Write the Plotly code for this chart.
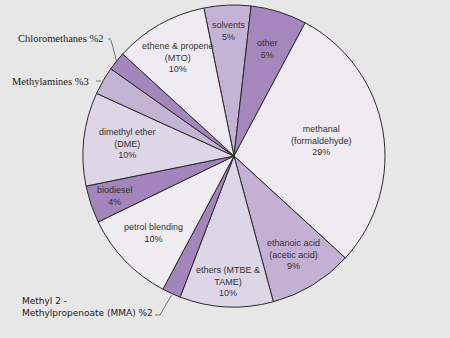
import math
import plotly.graph_objects as go

# Data (clockwise from the top-left of 12 o'clock)
labels = ["solvents", "other", "methanal (formaldehyde)", "ethanoic acid (acetic acid)",
          "ethers (MTBE & TAME)", "Methyl 2 - Methylpropenoate (MMA)", "petrol blending",
          "biodiesel", "dimethyl ether (DME)", "Methylamines", "Chloromethanes",
          "ethene & propene (MTO)"]
values = [5, 6, 29, 9, 10, 2, 10, 4, 10, 3, 2, 10]
inside_text = ["solvents<br>5%", "other<br>6%", "methanal<br>(formaldehyde)<br>29%",
               "ethanoic acid<br>(acetic acid)<br>9%", "ethers (MTBE &<br>TAME)<br>10%", "",
               "petrol blending<br>10%", "biodiesel<br>4%", "dimethyl ether<br>(DME)<br>10%",
               "", "", "ethene & propene<br>(MTO)<br>10%"]

# Styling
colors = ["#c3b3d4", "#a488bd", "#efebf1", "#c2b1d3", "#ddd6e6", "#a285bb",
          "#f0edf2", "#a285bc", "#ddd6e6", "#c3b4d4", "#a386bc", "#efebf2"]
label_rfrac = [0.83, 0.74, 0.59, 0.76, 0.83, 0, 0.74, 0.83, 0.71, 0, 0, 0.75]
W, H = 450, 338
cx, cy, R = 234, 156, 151
rotation = -11.5

fig = go.Figure(go.Pie(
    labels=labels, values=values, sort=False, direction="clockwise",
    rotation=rotation, textinfo="none", hoverinfo="skip",
    marker=dict(colors=colors, line=dict(color="#2a2a2a", width=1)),
    domain=dict(x=[(cx - R) / W, (cx + R) / W], y=[(H - cy - R) / H, (H - cy + R) / H]),
    showlegend=False,
))

total = sum(values)
angles = []
a = rotation
for v in values:
    span = v / total * 360
    angles.append(a + span / 2)
    a += span

def px_to_paper(x, y):
    return x / W, 1 - y / H

def polar(ang, r):
    rad = math.radians(ang)
    return cx + r * math.sin(rad), cy - r * math.cos(rad)

annotations = []
for txt, ang, rf in zip(inside_text, angles, label_rfrac):
    if not txt:
        continue
    x, y = polar(ang, rf * R)
    px, py = px_to_paper(x, y)
    annotations.append(dict(x=px, y=py, xref="paper", yref="paper", text=txt,
                            showarrow=False, xanchor="center", yanchor="middle",
                            font=dict(family="Liberation Sans, Arial", size=9, color="#333333")))

# outside labels
serif = dict(family="Liberation Serif, Times New Roman", size=10.5, color="#1a1a1a")
sans = dict(family="DejaVu Sans, Verdana", size=9, color="#1a1a1a")
annotations.append(dict(x=105 / W, y=1 - 38 / H, xref="paper", yref="paper",
                        text="Chloromethanes %2", showarrow=False, xanchor="right",
                        yanchor="middle", font=serif))
annotations.append(dict(x=91 / W, y=1 - 81 / H, xref="paper", yref="paper",
                        text="Methylamines %3", showarrow=False, xanchor="right",
                        yanchor="middle", font=serif))
annotations.append(dict(x=20 / W, y=1 - 307 / H, xref="paper", yref="paper",
                        text="Methyl 2 -<br>Methylpropenoate (MMA) %2", showarrow=False,
                        xanchor="left", yanchor="middle", align="left", font=sans))

shapes = []
def seg(x0, y0, x1, y1):
    p0 = px_to_paper(x0, y0)
    p1 = px_to_paper(x1, y1)
    shapes.append(dict(type="line", xref="paper", yref="paper", x0=p0[0], y0=p0[1],
                       x1=p1[0], y1=p1[1], line=dict(color="#555555", width=0.8)))

# leader lines to slice edges (computed from slice mid angles)
ex, ey = polar(angles[10], R)
seg(108, 39, 111, 39)
seg(111, 40, ex, ey)
ex, ey = polar(angles[9], R)
seg(96, 81, ex - 2, 81)
ex, ey = polar(angles[5], R)
seg(155, 315, 160, 315)
seg(160, 315, ex, ey + 2)

fig.update_layout(width=W, height=H, margin=dict(l=0, r=0, t=0, b=0),
                  paper_bgcolor="#e8e7e8", plot_bgcolor="#e8e7e8",
                  annotations=annotations, shapes=shapes)
fig.write_html("out.html")
